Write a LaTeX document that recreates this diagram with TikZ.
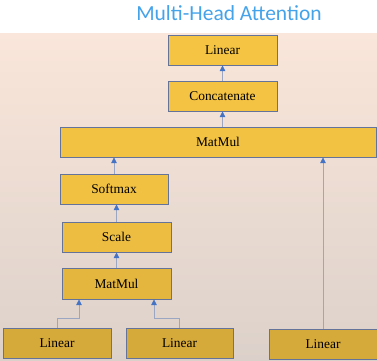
\documentclass[tikz,border=0pt]{standalone}
\usepackage{fontspec}
\setmainfont{Liberation Serif}
\newfontfamily\titlefont{Carlito}
\usetikzlibrary{arrows.meta}

\definecolor{titleblue}{HTML}{45A3EA}
\definecolor{bgtop}{HTML}{FAE6DA}
\definecolor{bgbot}{HTML}{DCD1CA}
\definecolor{goldtop}{HTML}{F5C443}
\definecolor{goldbot}{HTML}{D5A93A}
\definecolor{boxedge}{HTML}{63739A}
\definecolor{wire}{HTML}{9AA6C2}
\definecolor{tipblue}{HTML}{4472C4}

\tikzset{
  layer/.style={draw=boxedge, line width=1pt, inner sep=0pt,
    font=\fontsize{13.4}{15}\selectfont, text=black},
  flow/.style={draw=wire, line width=0.8pt,
    -{Triangle[length=5.5pt,width=5.5pt,fill=tipblue,color=tipblue]}},
}

\begin{document}
\begin{tikzpicture}[x=1pt,y=-1pt]
  \useasboundingbox (0,0) rectangle (377,360);
  % backdrop
  \fill[white] (0,0) rectangle (377,33);
  \shade[top color=bgtop, bottom color=bgbot] (0,33) rectangle (377,360);

  % title
  \node[anchor=base, text=titleblue, font=\titlefont\fontsize{21.5}{24}\selectfont]
    (title) at (229,20) {Multi-Head Attention};

  % layer boxes, darkening towards the bottom
  \node[layer, fill=goldtop, minimum width=109, minimum height=30]
    (linout) at (222.5,50) {Linear};
  \node[layer, fill=goldtop!97!goldbot, minimum width=109, minimum height=30]
    (concat) at (222.5,96) {Concatenate};
  \node[layer, fill=goldtop!92!goldbot, minimum width=316, minimum height=30]
    (mmbig) at (218,142) {MatMul};
  \node[layer, fill=goldtop!88!goldbot, minimum width=108, minimum height=30]
    (softmax) at (114,189) {Softmax};
  \node[layer, fill=goldtop!75!goldbot, minimum width=109, minimum height=30]
    (scale) at (116.5,237) {Scale};
  \node[layer, fill=goldtop!50!goldbot, minimum width=109, minimum height=31]
    (mmsmall) at (116.5,283.5) {MatMul};
  \node[layer, fill=goldbot, minimum width=108, minimum height=30]
    (linq) at (57,343) {Linear};
  \node[layer, fill=goldbot, minimum width=107, minimum height=30]
    (link) at (179.5,343) {Linear};
  \node[layer, fill=goldbot, minimum width=108, minimum height=30]
    (linv) at (323,344) {Linear};

  % bends of the two lower connectors
  \coordinate (qbend) at (79,318);
  \coordinate (kbend) at (154,318);

  % connectors
  \draw[flow] (linq.north) |- (qbend) -- (qbend |- mmsmall.south);
  \draw[flow] (link.north) |- (kbend) -- (kbend |- mmsmall.south);
  \draw[flow] (mmsmall.north) -- (mmsmall.north |- scale.south);
  \draw[flow] (scale.north) -- (scale.north |- softmax.south);
  \draw[flow] (softmax.north) -- (softmax.north |- mmbig.south);
  \draw[flow] (linv.north) -- (linv.north |- mmbig.south);
  \draw[flow] (mmbig.north -| concat.south) -- (concat.south);
  \draw[flow] (concat.north) -- (linout.south);
\end{tikzpicture}
\end{document}
